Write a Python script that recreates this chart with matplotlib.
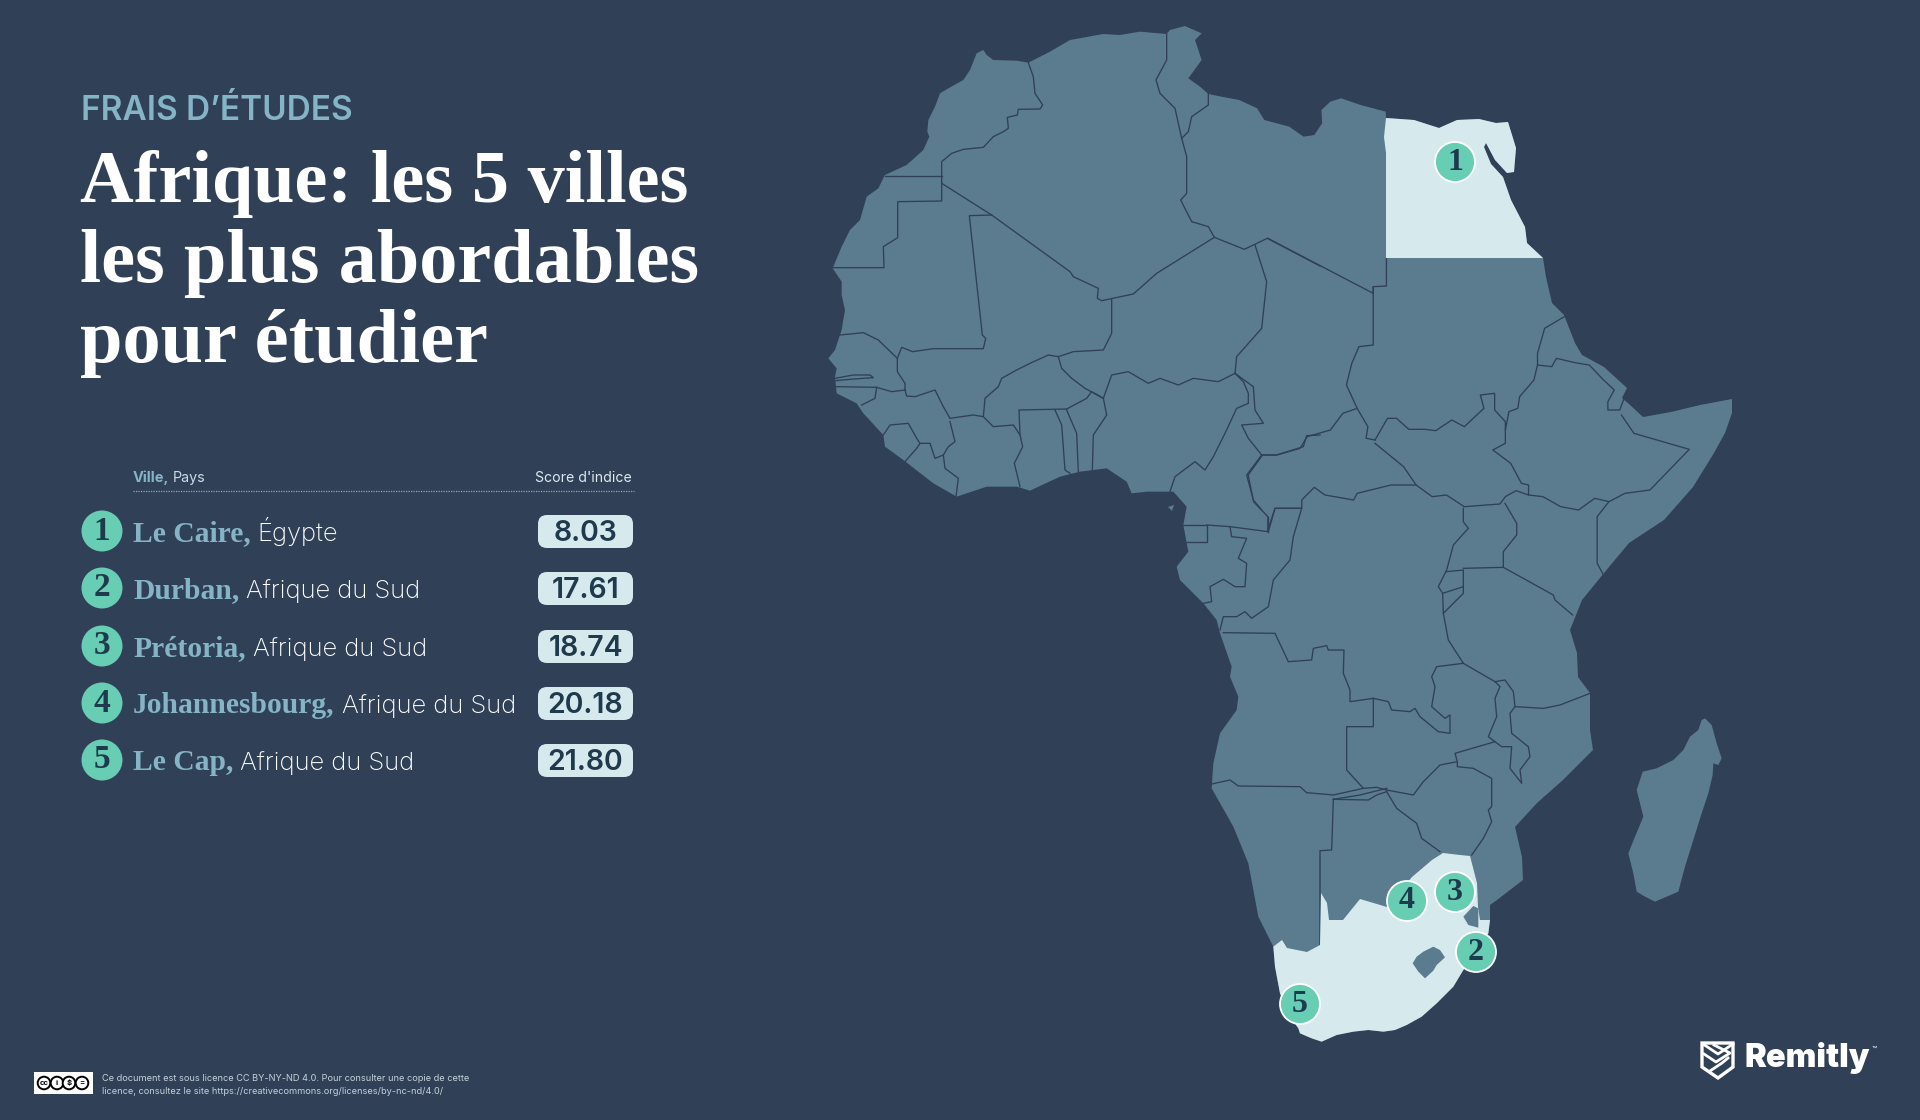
#!/usr/bin/env python3
"""Afrique: les 5 villes les plus abordables pour etudier (map + ranking table)."""
import numpy as np
import matplotlib; matplotlib.use("Agg")
import matplotlib.pyplot as plt
from matplotlib.patches import Polygon, Circle, FancyBboxPatch, Rectangle

BG = "#2F4057"; LAND = "#5B7B8F"; LIGHT = "#D6EAEE"; TEAL = "#67CDB3"; INK = "#1F3A4D"; BLUE = "#85B4C6"
SANS = ["Inter", "DejaVu Sans"]; SERIF = ["Liberation Serif", "DejaVu Serif"]

# ---- table data ----
ranks = [1, 2, 3, 4, 5]
cities = ["Le Caire,", "Durban,", "Prétoria,", "Johannesbourg,", "Le Cap,"]
countries = ["Égypte", "Afrique du Sud", "Afrique du Sud", "Afrique du Sud", "Afrique du Sud"]
scores = ["8.03", "17.61", "18.74", "20.18", "21.80"]
title_lines = ["Afrique: les 5 villes", "les plus abordables", "pour étudier"]

# marker positions on the map, image px
marker_x = [1455, 1476, 1455, 1407, 1300]
marker_y = [162, 952, 892, 901, 1004]

CROPS = {"nw": (820, 10, 3.0, 3.0), "ne": (1200, 80, 2.8, 3.0), "s": (1120, 480, 3.0, 3.0), "se": (1240, 700, 3.0, 3.0)}


def to_px(pts, crop):
    x0, y0, sx, sy = CROPS[crop]
    return [(x0 + x / sx, y0 + y / sy) for x, y in pts]


# ---- coastline ----
coast_north_nw = [(490,120),(500,135),(520,150),(590,152),(625,158),(690,125),(750,90),(850,72),(900,75),(960,65),(1040,72),
                  (1050,60),(1095,48),(1145,70),(1125,90),(1145,150),(1105,205),(1140,230),(1165,252)]
coast_north_ne = [(60,50),(110,60),(160,85),(180,120),(250,140),(290,170),(320,165),(342,130),(340,90),(365,65),(395,55),
                  (450,75),(520,95)]
coast_egypt = [(1386,118),(1414,120),(1439,128),(1457,120),(1479,119),(1496,123),(1508,122),(1516,148),(1514,172),(1507,173),
               (1495,160),(1486,143),(1484,147),(1491,164),(1503,177),(1511,200),(1525,227),(1527,243),(1543,258)]
coast_east = [(1546,277),(1552,303),(1564,315),(1575,343),(1582,355),(1604,367),(1627,388),(1622,398),(1629,404),
              (1643,417),(1671,412),(1700,405),(1732,399),(1732,413),(1725,433),(1714,453),(1693,487),(1664,520),
              (1629,543),(1604,573),(1582,600),(1570,630),(1577,653),(1578,677),(1590,693),(1590,730),(1593,750),
              (1563,780),(1537,803),(1515,827),(1522,857),(1523,880),(1497,900),(1490,905),(1490,920)]
coast_sa_se = [(745,700),(700,770),(670,810),(640,860),(590,910),(545,950),(500,975),(465,990),(430,995),(385,990),(340,995),
               (290,1005),(245,1025),(215,1015),(180,1000),(175,985),(150,950),(120,880),(105,800),(100,740)]
coast_west_s = [(415,1310),(385,1150),(340,1040),(275,925),(280,850),(300,760),(350,690),(355,650),(330,590),(335,560),
                (300,460),(290,420),(250,370),(180,300),(170,260),(205,215),(190,135),(200,80),(160,35)]
coast_west_nw = [(1050,1445),(980,1445),(935,1450),(920,1415),(860,1375),(780,1385),(720,1400),(630,1442),(590,1430),(500,1430),
                 (410,1460),(340,1420),(250,1350),(195,1310),(190,1275),(130,1210),(110,1180),(50,1150),(45,1100),(50,1075),
                 (25,1045),(45,1020),(65,960),(75,900),(65,855),(65,815),(38,775),(65,710),(90,660),(120,630),(140,560),
                 (175,535),(195,495),(260,465),(310,420),(328,380),(322,365),(325,330),(345,290),(360,250),(385,235),(430,210),
                 (450,180),(470,130)]
madagascar_se = [(1395,55),(1415,75),(1430,130),(1445,175),(1435,195),(1420,190),(1418,225),(1405,280),(1385,340),(1360,420),
                 (1335,500),(1315,575),(1280,590),(1245,605),(1215,590),(1190,575),(1180,520),(1165,460),(1185,410),(1210,350),
                 (1200,310),(1190,270),(1208,215),(1250,205),(1300,180),(1330,150),(1350,110),(1375,90),(1385,60)]
bioko = [(1168,507),(1174,505),(1172,511)]

# SA / Egypt inland edges and enclaves, image px
sa_inland = [(1282,940),(1287,948),(1307,952),(1320,945),(1321,893),(1327,903),(1329,920),(1343,920),(1360,899),(1387,907),
             (1412,877),(1432,860),(1443,853),(1460,855),(1470,856),(1477,883),(1478,907),(1480,920),(1490,920)]
egypt_west = [(1386,258),(1386,153),(1384,137)]
swaziland_se = [(670,650),(700,618),(715,625),(715,683),(685,675)]
lesotho_se = [(518,790),(530,770),(550,755),(580,740),(600,750),(615,772),(590,795),(580,812),(555,835),(535,815)]

# ---- borders ----
borders_nw = [
    [(625,158),(640,200),(645,250),(668,285),(660,297),(595,298),(592,315),(562,322),(565,355),(550,365),(520,380),(490,412),(430,418),(395,430),(365,455),(365,520)],
    [(195,498),(365,498)],
    [(365,520),(365,573),(233,575),(233,683),(190,710),(192,773),(38,773)],
    [(365,520),(515,615),(750,785),(760,800),(835,835),(832,865),(845,872),(940,852),(1010,790),(1183,682)],
    [(515,615),(448,617),(487,975),(497,985),(490,1016),(340,1016),(278,1025),(245,1012),(232,1045)],
    [(60,975),(130,968),(175,990),(232,1045),(232,1085),(255,1120),(255,1140)],
    [(45,1105),(100,1095),(150,1095),(160,1103),(130,1105),(90,1108),(48,1112)],
    [(48,1130),(170,1132),(215,1145),(255,1140)],
    [(170,1132),(165,1165),(125,1185)],
    [(255,1140),(260,1158),(285,1160),(345,1140),(370,1190),(390,1225)],
    [(190,1275),(210,1245),(265,1240),(290,1285),(300,1300)],
    [(255,1355),(290,1315),(300,1300),(330,1300),(345,1345),(370,1335),(385,1310),(405,1295),(390,1235)],
    [(370,1335),(375,1375),(415,1405),(408,1460)],
    [(390,1225),(460,1215),(490,1220),(495,1165),(535,1130),(545,1105),(590,1080),(630,1060),(685,1035),(715,1040)],
    [(875,868),(875,970),(850,1020),(760,1025),(715,1040),(725,1075),(755,1105),(795,1135),(850,1165)],
    [(490,1220),(520,1250),(580,1245),(600,1275),(608,1310),(583,1360),(600,1430)],
    [(600,1275),(597,1200),(740,1197)],
    [(705,1200),(725,1245),(735,1380),(750,1390)],
    [(740,1200),(770,1270),(775,1385)],
    [(740,1197),(800,1165),(815,1145),(850,1165),(860,1215),(820,1275),(817,1380)],
    [(850,1165),(875,1095),(925,1085),(985,1120),(1020,1105),(1075,1125),(1120,1105),(1195,1115),(1245,1090)],
    [(1040,72),(1040,150),(1008,210),(1020,250),(1065,295),(1085,385)],
    [(1165,252),(1165,285),(1115,320),(1105,365),(1085,385),(1100,440),(1100,550),(1082,570),(1115,635),(1165,650),(1183,682)],
    [(1183,682),(1273,718),(1342,685),(1500,768)],
    [(1305,705),(1340,815),(1325,955),(1250,1040),(1245,1090)],
    [(1245,1090),(1270,1115),(1285,1150),(1285,1180),(1250,1195),(1215,1270),(1180,1340),(1155,1380),(1125,1355),(1065,1400),(1050,1445)],
    [(1245,1090),(1300,1130),(1305,1200),(1330,1240),(1265,1245),(1285,1285),(1325,1335)],
    [(1325,1335),(1370,1335),(1450,1310),(1460,1277),(1500,1275)],
    [(1325,1335),(1280,1395),(1300,1470),(1325,1500)],
]
borders_ne = [
    [(190,475),(485,640),(485,620),(522,618),(522,535)],
    [(485,620),(485,795),(445,800),(425,850),(410,915),(440,985),(470,1040),(465,1075),(490,1080)],
    [(440,985),(400,1000),(365,1050),(300,1070),(280,1105),(215,1125),(175,1125),(135,1185),(150,1265),(190,1310),(190,1355)],
    [(490,1090),(570,1160),(605,1215)],
    [(490,1080),(525,1015),(550,1015),(585,1048),(630,1048),(660,1052),(705,1020),(740,1040),(795,985),(785,945),(825,940),(825,990),(855,1025),(855,1090),(820,1110),(870,1150),(900,1210),(920,1215),(920,1245)],
    [(855,1050),(865,995),(890,985),(895,950),(935,900),(945,855),(945,820),(965,745),(1020,710)],
    [(945,855),(985,860),(998,835),(1050,848),(1090,855),(1130,900),(1160,930),(1142,965),(1142,990),(1175,990),(1195,935)],
    [(1180,1005),(1215,1060),(1370,1108),(1260,1230),(1190,1240),(1145,1265),(1105,1255),(1060,1290),(1010,1280),(960,1250),(920,1245),(885,1232),(855,1250),(840,1272),(740,1280),(690,1245),(650,1250),(605,1215),(535,1215),(440,1240),(430,1260),(350,1245),(320,1222),(285,1260),(285,1285),(210,1285),(190,1350)],
    [(1145,1265),(1112,1310),(1112,1450),(1130,1485)],
]
borders_s = [
    [(190,135),(260,135),(260,185),(190,185)],
    [(260,135),(330,140),(445,155),(465,85),(545,85),(520,170),(510,240),(460,300),(445,380),(395,415),(375,395),(350,410),(310,410),(300,450)],
    [(445,110),(445,155)],
    [(330,140),(335,170),(380,175),(355,235),(380,250),(375,320),(345,320),(310,298),(270,320),(275,365),(250,370)],
    [(1030,85),(1030,125),(1045,145),(1000,195),(980,270),(955,320),(968,340),(1030,320),(1030,270),(980,275)],
    [(1030,265),(1150,262),(1300,345),(1305,360),(1358,405)],
    [(1155,70),(1190,130),(1190,165),(1150,215),(1150,262)],
    [(968,340),(970,400),(1030,340),(1030,320)],
    [(970,400),(985,480),(1030,550),(1125,605),(1155,600),(1180,635),(1185,680),(1270,685),(1320,675),(1410,640)],
    [(1030,550),(950,560),(935,590),(945,620),(935,680),(975,715),(990,705),(990,760),(955,755),(900,710),(885,685),(870,695),(815,690),(805,665),(760,655),(690,665),(690,630),(670,580),(672,510),(625,510),(620,497),(580,505),(575,540),(505,545),(465,460),(310,458)],
    [(760,655),(760,740),(680,740),(680,870),(730,925)],
    [(275,912),(330,900),(355,918),(540,920),(560,938),(640,945),(730,925),(770,922),(800,930)],
    [(640,958),(720,945),(800,925)],
    [(640,958),(745,960),(770,945),(800,935)],
    [(640,958),(635,1110),(600,1112),(600,1395)],
    [(800,930),(880,945),(910,905),(960,855),(1012,845),(1005,820),(1125,785),(1105,770),(1130,710),(1125,655),(1140,620),(1125,605)],
    [(1185,680),(1170,700),(1175,760),(1225,800),(1230,830),(1200,870),(1205,910),(1170,865),(1175,800),(1145,800),(1125,785)],
    [(1012,845),(1012,860),(1060,865),(1115,895),(1115,980),(1105,990),(1115,1025),(1090,1075),(1055,1125)],
    [(800,935),(830,985),(890,1030),(905,1075),(960,1115)],
]

fig = plt.figure(figsize=(19.2, 11.2), dpi=100, facecolor=BG)
ax = fig.add_axes([0, 0, 1, 1]); ax.set_xlim(0, 1920); ax.set_ylim(1120, 0); ax.axis("off")

# ---- map ----
coast_sa = to_px(coast_sa_se, "se")
mainland = (to_px(coast_north_nw, "nw") + to_px(coast_north_ne, "ne") + coast_egypt + coast_east + coast_sa
            + to_px(coast_west_s, "s") + to_px(coast_west_nw, "nw"))
ax.add_patch(Polygon(mainland, fc=LAND, ec="none", zorder=1))
ax.add_patch(Polygon(to_px(madagascar_se, "se"), fc=LAND, ec="none", zorder=1))
ax.add_patch(Polygon(bioko, fc=LAND, ec="none", zorder=1))
for name, group in (("nw", borders_nw), ("ne", borders_ne), ("s", borders_s)):
    for line in group:
        p = np.array(to_px(line, name))
        ax.plot(p[:, 0], p[:, 1], color=BG, lw=0.95, solid_joinstyle="round", zorder=2)
ax.add_patch(Polygon(coast_egypt + egypt_west, fc=LIGHT, ec="none", zorder=3))
ax.add_patch(Polygon(sa_inland + coast_sa, fc=LIGHT, ec="none", zorder=3))
ax.add_patch(Polygon(to_px(swaziland_se, "se"), fc=LAND, ec="none", zorder=4))
ax.add_patch(Polygon(to_px(lesotho_se, "se"), fc=LAND, ec="none", zorder=4))
for r, mx, my in zip(ranks, marker_x, marker_y):
    ax.add_patch(Circle((mx, my), 20, fc=TEAL, ec="white", lw=1.3, zorder=5))
    ax.text(mx, my, str(r), color=INK, family=SERIF, weight="bold", fontsize=23, ha="center", va="center", zorder=6)

# ---- heading ----
ax.text(81, 120, "FRAIS D’ÉTUDES", color=BLUE, family=SANS, weight="semibold", fontsize=24, va="baseline")
for line, y, size in zip(title_lines, [202, 282, 362], [53.5, 55, 55]):
    ax.text(80, y, line, color="white", family=SERIF, weight="bold", fontsize=size, va="baseline")

# ---- table ----
rend = fig.canvas.get_renderer()
t = ax.text(133, 482, "Ville,", color=BLUE, family=SANS, weight="bold", fontsize=10.5, va="baseline")
bb = t.get_window_extent(rend)
ax.text(bb.x1 + 3, 482, "Pays", color="#C9DCE4", family=SANS, fontsize=10.3, va="baseline")
ax.text(632, 482, "Score d'indice", color="#DCE8EC", family=SANS, fontsize=10.2, ha="right", va="baseline")
ax.plot([133, 634], [491, 491], color="#8FA9B8", lw=0.9, ls=(0, (1, 1)))
row_y = [531, 588, 646, 703, 760]
for r, city, country, score, y in zip(ranks, cities, countries, scores, row_y):
    ax.add_patch(Circle((102, y), 20.5, fc=TEAL, ec="none"))
    ax.text(102, y, str(r), color=INK, family=SERIF, weight="bold", fontsize=24, ha="center", va="center")
    t = ax.text(133, y + 10, city, color=BLUE, family=SERIF, weight="bold", fontsize=21.3, va="baseline")
    bb = t.get_window_extent(rend)
    ax.text(bb.x1 + 7, y + 10, country, color="white", family=SANS, fontsize=18.4, weight="light", va="baseline")
    ax.add_patch(FancyBboxPatch((538, y - 16), 95, 33, boxstyle="round,pad=0,rounding_size=9", fc=LIGHT, ec="none"))
    ax.text(585.5, y + 10, score, color=INK, family=SANS, weight="semibold", fontsize=20.5, ha="center", va="baseline")

# ---- licence ----
ax.add_patch(Rectangle((34, 1072), 59, 22, fc="white", ec="none"))
for cx, glyph in zip([44, 57, 69, 82], ["cc", "i", "$", "="]):
    ax.add_patch(Circle((cx, 1083), 6.3, fc="white", ec="black", lw=1.4))
    ax.text(cx, 1083, glyph, color="black", family=SANS, weight="bold", fontsize=5.5, ha="center", va="center")
ax.text(102, 1081, "Ce document est sous licence CC BY-NY-ND 4.0. Pour consulter une copie de cette", color="#C5D0D8",
        family=SANS, fontsize=6.65, va="baseline")
ax.text(102, 1094, "licence, consultez le site https://creativecommons.org/licenses/by-nc-nd/4.0/", color="#C5D0D8",
        family=SANS, fontsize=6.65, va="baseline")

# ---- logo ----
shield = [(1702, 1043), (1733, 1043), (1733, 1067), (1718, 1078), (1702, 1067)]
ax.add_patch(Polygon(shield, fc="none", ec="white", lw=2.4, joinstyle="miter"))
ax.plot([1703, 1718, 1733], [1044, 1054, 1044], color="white", lw=2)
ax.plot([1704, 1716, 1730, 1714], [1054, 1062, 1053, 1045], color="white", lw=2)
ax.plot([1710, 1722, 1728], [1071, 1063, 1058], color="white", lw=2)
t = ax.text(1744, 1067, "Remitly", color="white", family=SANS, weight="black", fontsize=23.5, va="baseline")
bb = t.get_window_extent(rend)
ax.text(bb.x1 + 2, 1052, "™", color="white", family=SANS, fontsize=6, va="baseline")

fig.savefig("out.png", dpi=100, facecolor=BG)
